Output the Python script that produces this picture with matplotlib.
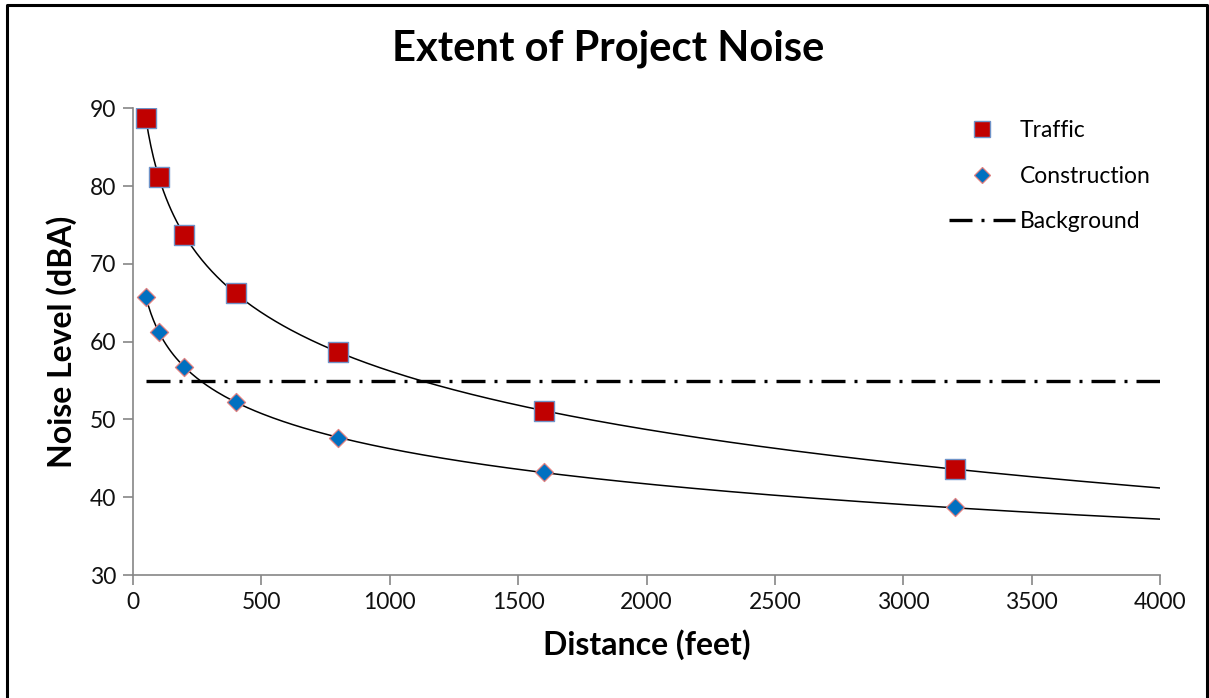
import numpy as np
import matplotlib
matplotlib.use('Agg')
import matplotlib.pyplot as plt
from matplotlib.lines import Line2D

plt.rcParams['font.family'] = ['Lato', 'DejaVu Sans']

distance = [50, 100, 200, 400, 800, 1600, 3200]
traffic = [88.7, 81.2, 73.7, 66.2, 58.7, 51.1, 43.6]
construction = [65.8, 61.3, 56.8, 52.2, 47.6, 43.2, 38.7]
background_level = 55
x_range = [50, 4000]

fig = plt.figure(figsize=(12.09, 6.98), dpi=100)
ax = fig.add_axes([0.110, 0.176, 0.8495, 0.669])

# log trendlines fitted to the points, like excel does
xs = np.linspace(x_range[0], x_range[1], 400)
for ys in (traffic, construction):
    a, b = np.polyfit(np.log(distance), ys, 1)
    ax.plot(xs, a * np.log(xs) + b, color='black', lw=1.1, zorder=2)

ax.plot(x_range, [background_level] * 2, color='black', lw=2.4,
        dashes=(7.2, 2.7, 0.9, 2.7), zorder=1)

ax.scatter(distance, traffic, marker='s', s=190, color='#c00000',
           edgecolor='#6f93c8', linewidth=1.0, zorder=3)
ax.scatter(distance, construction, marker='D', s=85, color='#0070c0',
           edgecolor='#e08080', linewidth=0.9, zorder=3)

ax.set_xlim(0, 4000)
ax.set_ylim(30, 90)
ax.set_xticks(range(0, 4001, 500))
ax.set_yticks(range(30, 91, 10))
for s in ('top', 'right'):
    ax.spines[s].set_visible(False)
for s in ('left', 'bottom'):
    ax.spines[s].set_color('#868686')
    ax.spines[s].set_linewidth(1.2)
ax.tick_params(direction='out', length=7, width=1.2, color='#868686',
               labelsize=16.5, labelcolor='#111111', pad=5)

ax.set_xlabel('Distance (feet)', fontsize=23, fontweight='bold', labelpad=12)
ax.set_ylabel('Noise Level (dBA)', fontsize=23, fontweight='bold', labelpad=9)
fig.text(0.503, 0.93, 'Extent of Project Noise', ha='center', va='center',
         fontsize=30, fontweight='bold')

handles = [
    Line2D([], [], ls='none', marker='s', ms=12, color='#c00000',
           markeredgecolor='#6f93c8', markeredgewidth=1.0),
    Line2D([], [], ls='none', marker='D', ms=8.5, color='#0070c0',
           markeredgecolor='#e08080', markeredgewidth=0.9),
    Line2D([], [], color='black', lw=2.4, dashes=(6.9, 2.7, 0.9, 2.7)),
]
ax.legend(handles, ['Traffic', 'Construction', 'Background'],
          loc='upper left', bbox_to_anchor=(0.774, 1.019), frameon=False,
          fontsize=16.5, labelspacing=1.08, handlelength=2.9, handletextpad=0.2)

# frame around the whole picture (no bottom edge)
fig.add_artist(Line2D([0.006, 0.006, 0.9985, 0.9985], [0, 0.993, 0.993, 0],
                      transform=fig.transFigure, color='black', lw=2.2))

fig.savefig('out.png', dpi=100)
